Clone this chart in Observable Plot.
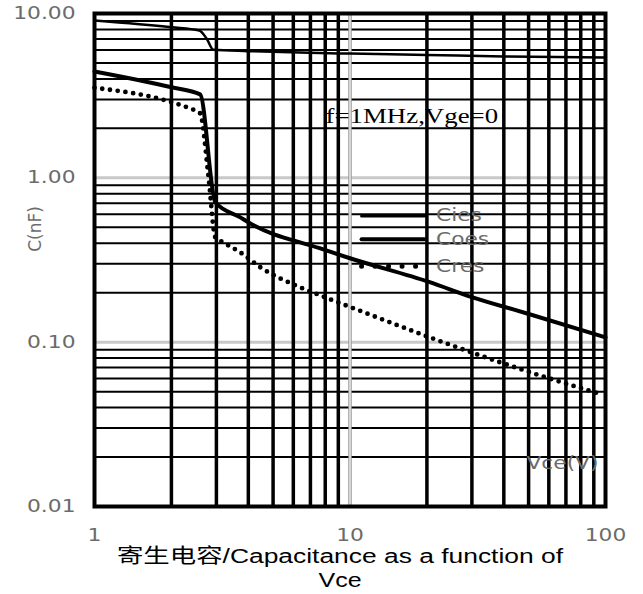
<!DOCTYPE html>
<html><head><meta charset="utf-8">
<script src="https://cdn.jsdelivr.net/npm/d3@7"></script>
<script src="https://cdn.jsdelivr.net/npm/@observablehq/plot@0.6"></script>
<style>body{margin:0;background:#fff}</style>
</head><body><div id="chart"></div>
<script>
// ---- data ----
const vceCies = [1, 2, 2.57, 2.75, 2.92, 4, 7.6, 10, 20, 40, 100];
const cies    = [9.07, 8.25, 7.88, 7.02, 6.01, 5.9, 5.75, 5.7, 5.6, 5.48, 5.4];

const vceCoes = [1, 2, 2.59, 2.97, 3.72, 4, 7.6, 10, 20.5, 30, 49, 100];
const coes    = [4.44, 3.56, 3.22, 0.71, 0.575, 0.536, 0.373, 0.324, 0.232, 0.188, 0.15, 0.107];

const vceCres = [1, 2, 2.37, 2.59, 2.79, 2.97, 3.19, 3.72, 4.45, 6.36, 7.62, 10.3, 20.5, 38.6, 58.6, 93];
const cres    = [3.53, 2.89, 2.64, 2.47, 1.04, 0.435, 0.405, 0.352, 0.286, 0.216, 0.193, 0.161, 0.107, 0.0755, 0.061, 0.049];

const seriesNames = ["Cies", "Coes", "Cres"];
const xTicks = [1, 10, 100];
const yTicks = [0.01, 0.1, 1, 10];
const annotation = "f=1MHz,Vge=0";
const xUnitLabel = "Vce(V)";
const yLabel = "C(nF)";
const titleLines = ["寄生电容/Capacitance as a function of", "Vce"];

// ---- derived ----
const rows = (xs, ys) => xs.map((x, i) => ({x, y: ys[i]}));
const minor = decades => decades.flatMap(d => d3.range(2, 10).map(k => k * d));
const minorX = minor(xTicks.slice(0, -1));
const minorY = minor(yTicks.slice(0, -1));
const majorX = xTicks.slice(1, -1);
const majorY = yTicks.slice(1, -1);

const grey = "#6b6b6b";
const legendXs = [11.1, 19.6];
const legendYs = [0.586, 0.423, 0.29];
const legendLine = i => legendXs.map(x => ({x, y: legendYs[i]}));

const plot = Plot.plot({
  width: 643, height: 594,
  marginLeft: 94, marginRight: 38, marginTop: 13, marginBottom: 88,
  style: {fontFamily: "DejaVu Sans", background: "white", overflow: "visible"},
  x: {type: "log", domain: [1, 100], axis: null},
  y: {type: "log", domain: [0.01, 10], axis: null},
  marks: [
    Plot.ruleY(majorY, {stroke: "#c8c8c8", strokeWidth: 3}),
    Plot.ruleY(minorY, {stroke: "black", strokeWidth: 2}),
    Plot.ruleX(minorX, {stroke: "black", strokeWidth: 3.5}),
    Plot.ruleX(majorX, {stroke: "#9a9a9a", strokeWidth: 3.5}),
    Plot.ruleX(majorX, {stroke: "white", strokeWidth: 1.2}),
    Plot.line(rows(vceCies, cies), {x: "x", y: "y", stroke: "black", strokeWidth: 2.5, curve: "monotone-x", strokeLinejoin: "round"}),
    Plot.line(rows(vceCoes, coes), {x: "x", y: "y", stroke: "black", strokeWidth: 4, curve: "monotone-x", strokeLinejoin: "round"}),
    Plot.line(rows(vceCres, cres), {x: "x", y: "y", stroke: "black", strokeWidth: 4.8, curve: "monotone-x", strokeDasharray: "0 7.8", strokeLinecap: "round"}),
    // legend
    Plot.line(legendLine(0), {x: "x", y: "y", stroke: "black", strokeWidth: 3}),
    Plot.line(legendLine(1), {x: "x", y: "y", stroke: "black", strokeWidth: 4}),
    Plot.line(legendLine(2), {x: "x", y: "y", stroke: "black", strokeWidth: 5, strokeDasharray: "0 13.5", strokeLinecap: "round"}),
    Plot.text(seriesNames, {x: () => 21.7, y: (d, i) => legendYs[i], text: d => d, textAnchor: "start", lineAnchor: "middle", fontSize: 17, fill: grey}),
    // annotations
    Plot.text([annotation], {frameAnchor: "top-left", dx: 231, dy: 102, textAnchor: "start", lineAnchor: "middle", fontFamily: "Liberation Serif", fontSize: 22, fill: "black"}),
    Plot.text([xUnitLabel], {frameAnchor: "bottom-right", dx: -7, dy: -43, textAnchor: "end", lineAnchor: "middle", fontSize: 17, fill: grey}),
    Plot.text([yLabel], {frameAnchor: "left", dx: -59, dy: -31, rotate: -90, textAnchor: "middle", lineAnchor: "middle", fontSize: 17, fill: grey}),
    Plot.text([titleLines[0]], {frameAnchor: "bottom", dx: -10, dy: 50, textAnchor: "middle", lineAnchor: "middle", fontFamily: "'Liberation Sans', 'Noto Sans CJK SC', sans-serif", fontSize: 20, fill: "black"}),
    Plot.text([titleLines[1]], {frameAnchor: "bottom", dx: -10, dy: 74, textAnchor: "middle", lineAnchor: "middle", fontFamily: "'Liberation Sans', 'Noto Sans CJK SC', sans-serif", fontSize: 20, fill: "black"}),
    // axes
    Plot.axisX(xTicks, {tickSize: 0, tickPadding: 22, tickFormat: d => String(d), fontSize: 17, color: grey, label: null}),
    Plot.axisY(yTicks, {tickSize: 0, tickPadding: 19, tickFormat: d3.format(".2f"), fontSize: 17, color: grey, label: null}),
    Plot.frame({stroke: "black", strokeWidth: 4})
  ]
});

document.getElementById("chart").append(plot);

// the reference's lettering is horizontally wide; stretch glyphs to match
plot.querySelectorAll("text").forEach(t => {
  if (t.querySelector("tspan")) return;
  const tr = t.getAttribute("transform") || "";
  if (tr.includes("rotate")) return;
  const s = t.textContent;
  let f = 1.28;
  if (s === titleLines[0]) f = 1.32;
  else if (s === annotation) f = 1.22;
  else if (s === titleLines[1]) f = 1.25;
  const w = t.getComputedTextLength();
  if (w > 0) {
    t.setAttribute("textLength", (w * f).toFixed(1));
    t.setAttribute("lengthAdjust", "spacingAndGlyphs");
  }
});
</script>
</body></html>
